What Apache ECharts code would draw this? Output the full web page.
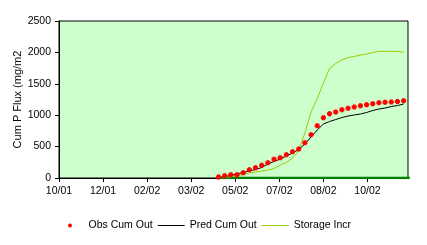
<!DOCTYPE html>
<html>
<head>
<meta charset="utf-8">
<script src="https://cdn.jsdelivr.net/npm/echarts@6/dist/echarts.min.js"></script>
<style>
html,body{margin:0;padding:0;background:#fff;}
#c{width:427px;height:245px;}
</style>
</head>
<body>
<div id="c"></div>
<script>
// ---- data ----
const originDate = '2001-10-31';
const tickLabels = ['10/01', '12/01', '02/02', '03/02', '05/02', '07/02', '08/02', '10/02'];
const tickStepDays = 50;
const axisMaxDays = 396;
const obsDates = ['2002-04-30','2002-05-07','2002-05-14','2002-05-21','2002-05-28','2002-06-04','2002-06-11','2002-06-18','2002-06-25','2002-07-02','2002-07-09','2002-07-16','2002-07-23','2002-07-30','2002-08-06','2002-08-13','2002-08-20','2002-08-27','2002-09-03','2002-09-10','2002-09-17','2002-09-24','2002-10-01','2002-10-08','2002-10-15','2002-10-22','2002-10-29','2002-11-05','2002-11-12','2002-11-19','2002-11-26'];
const obsCumOut = [16, 37, 53, 53, 85, 133, 165, 202, 244, 297, 324, 372, 419, 462, 562, 690, 833, 960, 1024, 1051, 1085, 1112, 1130, 1151, 1167, 1183, 1199, 1206, 1212, 1218, 1231];
const predCumOut = [8, 24, 40, 64, 88, 111, 135, 167, 223, 263, 302, 350, 398, 454, 541, 653, 764, 860, 900, 931, 963, 987, 1003, 1019, 1043, 1075, 1098, 1114, 1138, 1154, 1178];
const storageIncr = [0, 8, 19, 35, 56, 80, 96, 111, 127, 151, 207, 247, 318, 430, 716, 1051, 1265, 1512, 1746, 1823, 1882, 1918, 1934, 1958, 1974, 1998, 2017, 2017, 2017, 2017, 2001];
const baseDates = ['2002-04-28'].concat(obsDates, ['2002-12-03']);
const baseValues = [0,0,0,0,0,0,0,0,0,0,0,0,0,0,0,0,0,0,0,0,0,0,0,0,0,0,0,0,0,0,0,0,0];

// ---- helpers ----
const DAY = 86400000;
const t0 = Date.parse(originDate + 'T00:00:00Z');
const dayOf = d => Math.round((Date.parse(d + 'T00:00:00Z') - t0) / DAY);
const pairs = (dates, vals) => dates.map((d, i) => [dayOf(d), vals[i]]);
const tickValues = tickLabels.map((_, i) => i * tickStepDays);

const FONT = 'Liberation Sans, Arial, sans-serif';
const LINE_ICON = 'path://M0,0H27V1H0Z';
const chart = echarts.init(document.getElementById('c'), null, {renderer: 'canvas'});
chart.setOption({
  animation: false,
  backgroundColor: '#ffffff',
  grid: {
    left: 59, right: 19, top: 21, bottom: 67,
    containLabel: false, outerBoundsMode: 'none',
    show: true, backgroundColor: '#CCFFCC', borderColor: '#000000', borderWidth: 1
  },
  legend: {
    left: 63, top: 215,
    itemWidth: 27, itemHeight: 4, itemGap: 5,
    symbolKeepAspect: true,
    textStyle: {color: '#000', fontSize: 10.5, fontFamily: FONT},
    data: [
      {name: 'Obs Cum Out', icon: 'circle'},
      {name: 'Pred Cum Out', icon: LINE_ICON},
      {name: 'Storage Incr', icon: LINE_ICON}
    ]
  },
  xAxis: {
    type: 'value',
    min: 0, max: axisMaxDays, interval: tickStepDays,
    splitLine: {show: false},
    axisLine: {show: true, onZero: false, lineStyle: {color: '#000', width: 1}},
    axisTick: {show: true, length: 4, inside: false, customValues: tickValues, lineStyle: {color: '#000'}},
    axisLabel: {
      customValues: tickValues,
      color: '#000', fontSize: 10.5, fontFamily: FONT, margin: 8,
      formatter: v => tickLabels[Math.round(v / tickStepDays)] || ''
    }
  },
  yAxis: {
    type: 'value',
    min: 0, max: 2500, interval: 500,
    name: 'Cum P Flux (mg/m2',
    nameLocation: 'middle', nameGap: 36, nameRotate: 90, nameMoveOverlap: false,
    nameTextStyle: {color: '#000', fontSize: 11, fontFamily: FONT},
    splitLine: {show: false},
    axisLine: {show: true, lineStyle: {color: '#000', width: 1}},
    axisTick: {show: true, length: 4, lineStyle: {color: '#000'}},
    axisLabel: {color: '#000', fontSize: 10.5, fontFamily: FONT, margin: 8, formatter: v => String(v)}
  },
  series: [
    {
      name: 'Baseline', type: 'line', data: pairs(baseDates, baseValues),
      symbol: 'none', lineStyle: {color: '#008000', width: 2.5}, itemStyle: {color: '#008000'},
      z: 1, silent: true
    },
    {
      name: 'Storage Incr', type: 'line', data: pairs(obsDates, storageIncr),
      symbol: 'none', lineStyle: {color: '#99CC00', width: 1}, itemStyle: {color: '#99CC00'},
      z: 2
    },
    {
      name: 'Pred Cum Out', type: 'line', data: pairs(obsDates, predCumOut),
      symbol: 'none', lineStyle: {color: '#000000', width: 1}, itemStyle: {color: '#000000'},
      z: 3
    },
    {
      name: 'Obs Cum Out', type: 'scatter', data: pairs(obsDates, obsCumOut),
      symbol: 'path://M1,0H4V1H5V4H4V5H1V4H0V1H1Z', symbolSize: 5,
      itemStyle: {color: '#FF0000', opacity: 1},
      z: 4
    }
  ]
});
</script>
</body>
</html>
